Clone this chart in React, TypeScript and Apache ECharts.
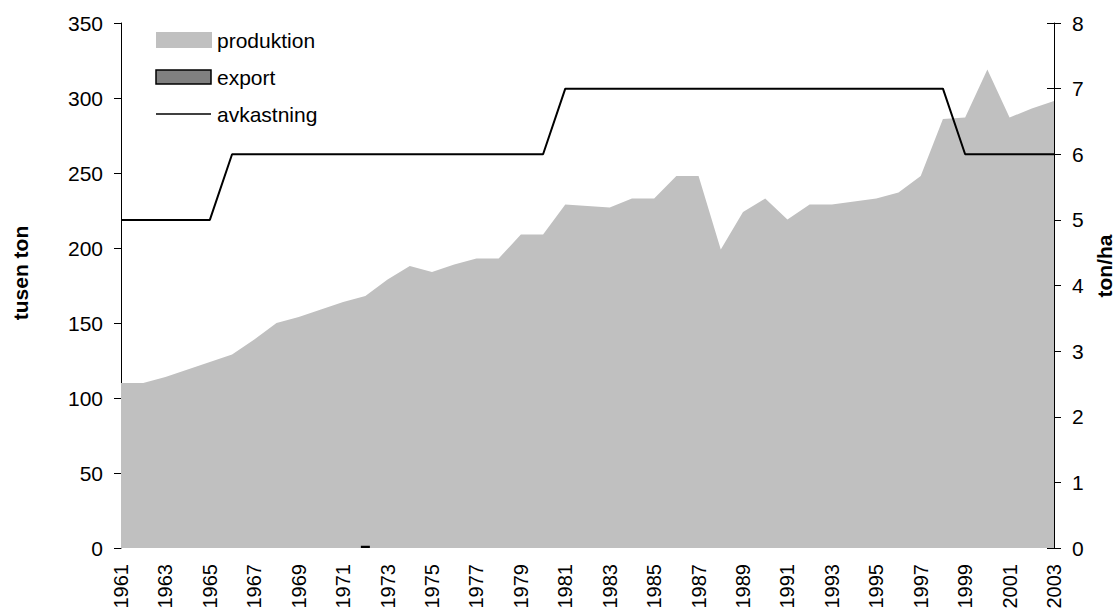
import React, { useEffect, useRef } from "react";
import * as echarts from "echarts";

const years = [
  "1961", "1962", "1963", "1964", "1965", "1966", "1967", "1968", "1969", "1970",
  "1971", "1972", "1973", "1974", "1975", "1976", "1977", "1978", "1979", "1980",
  "1981", "1982", "1983", "1984", "1985", "1986", "1987", "1988", "1989", "1990",
  "1991", "1992", "1993", "1994", "1995", "1996", "1997", "1998", "1999", "2000",
  "2001", "2002", "2003",
];

// tusen ton
const produktion = [
  110, 110, 114, 119, 124, 129, 139, 150, 154, 159,
  164, 168, 179, 188, 184, 189, 193, 193, 209, 209,
  229, 228, 227, 233, 233, 248, 248, 199, 224, 233,
  219, 229, 229, 231, 233, 237, 248, 286, 287, 319,
  287, 293, 298,
];

// tusen ton (only 1972 visible)
const exportValues: (number | null)[] = [
  null, null, null, null, null, null, null, null, null, null,
  null, 1.5, null, null, null, null, null, null, null, null,
  null, null, null, null, null, null, null, null, null, null,
  null, null, null, null, null, null, null, null, null, null,
  null, null, null,
];

// ton/ha
const avkastning = [
  5, 5, 5, 5, 5, 6, 6, 6, 6, 6,
  6, 6, 6, 6, 6, 6, 6, 6, 6, 6,
  7, 7, 7, 7, 7, 7, 7, 7, 7, 7,
  7, 7, 7, 7, 7, 7, 7, 7, 6, 6,
  6, 6, 6,
];

const leftAxis = { min: 0, max: 350, interval: 50 };
const rightAxis = { min: 0, max: 8, interval: 1 };

const FONT = "'Liberation Sans', Arial, sans-serif";
const FS = 21;

export default function App() {
  const ref = useRef<HTMLDivElement>(null);
  useEffect(() => {
    if (!ref.current) return;
    const chart = echarts.init(ref.current, null, { renderer: "svg" });
    chart.setOption({
      animation: false,
      backgroundColor: "#ffffff",
      textStyle: { fontFamily: FONT },
      grid: { left: 121, right: 66, top: 23, bottom: 62, containLabel: false, outerBoundsMode: "none" },
      xAxis: {
        type: "category",
        data: years,
        boundaryGap: false,
        axisLine: { show: false },
        axisTick: { show: false },
        splitLine: { show: false },
        axisLabel: {
          interval: 1,
          rotate: 90,
          margin: 16,
          fontSize: 20,
          color: "#000",
          fontFamily: FONT,
        },
      },
      yAxis: [
        {
          type: "value",
          position: "left",
          ...leftAxis,
          axisLine: { show: true, lineStyle: { color: "#000", width: 1 } },
          axisTick: { show: true, inside: false, length: 7, lineStyle: { color: "#000" } },
          splitLine: { show: false },
          axisLabel: { fontSize: FS, color: "#000", margin: 18, fontFamily: FONT },
        },
        {
          type: "value",
          position: "right",
          ...rightAxis,
          axisLine: { show: true, lineStyle: { color: "#000", width: 1 } },
          axisTick: { show: true, inside: false, length: 7, lineStyle: { color: "#000" } },
          splitLine: { show: false },
          axisLabel: { fontSize: FS, color: "#000", margin: 18, fontFamily: FONT },
        },
        {
          type: "value",
          position: "right",
          ...rightAxis,
          axisLine: { show: false },
          axisTick: { show: true, inside: true, length: 7, lineStyle: { color: "#000" } },
          splitLine: { show: false },
          axisLabel: { show: false },
        },
      ],
      series: [
        {
          name: "produktion",
          type: "line",
          data: produktion,
          yAxisIndex: 0,
          symbol: "none",
          lineStyle: { width: 0 },
          areaStyle: { color: "#c0c0c0", opacity: 1 },
          z: 1,
        },
        {
          name: "export",
          type: "bar",
          data: exportValues,
          yAxisIndex: 0,
          barWidth: 9,
          itemStyle: { color: "#808080", borderColor: "#000", borderWidth: 1.5 },
          z: 2,
        },
        {
          name: "avkastning",
          type: "line",
          data: avkastning,
          yAxisIndex: 1,
          symbol: "none",
          lineStyle: { color: "#000", width: 2 },
          z: 3,
        },
      ],
      graphic: [
        { type: "rect", shape: { x: 156, y: 32, width: 56, height: 16 }, style: { fill: "#c0c0c0" } },
        { type: "text", x: 217, y: 40, style: { text: "produktion", fontSize: FS, fontFamily: FONT, fill: "#000", verticalAlign: "middle" } },
        { type: "rect", shape: { x: 156, y: 70, width: 55, height: 14 }, style: { fill: "#808080", stroke: "#000", lineWidth: 1.5 } },
        { type: "text", x: 217, y: 77, style: { text: "export", fontSize: FS, fontFamily: FONT, fill: "#000", verticalAlign: "middle" } },
        { type: "line", shape: { x1: 156, y1: 114, x2: 211, y2: 114 }, style: { stroke: "#000", lineWidth: 1.5 } },
        { type: "text", x: 217, y: 114, style: { text: "avkastning", fontSize: FS, fontFamily: FONT, fill: "#000", verticalAlign: "middle" } },
        { type: "text", x: 20, y: 273, rotation: Math.PI / 2, style: { text: "tusen ton", fontSize: FS, fontWeight: "bold", fontFamily: FONT, fill: "#000", align: "center", verticalAlign: "middle" } },
        { type: "text", x: 1104, y: 266, rotation: Math.PI / 2, style: { text: "ton/ha", fontSize: FS, fontWeight: "bold", fontFamily: FONT, fill: "#000", align: "center", verticalAlign: "middle" } },
      ],
    });
    return () => chart.dispose();
  }, []);
  return (
    <div
      ref={ref}
      style={{ position: "fixed", left: 0, top: 0, width: 1120, height: 610, background: "#fff" }}
    />
  );
}
